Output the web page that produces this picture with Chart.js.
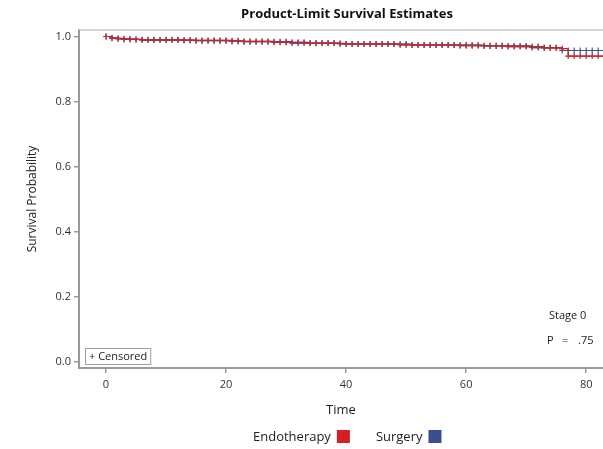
<!DOCTYPE html>
<html lang="en">
<head>
<meta charset="UTF-8">
<title>Product-Limit Survival Estimates</title>
<script src="https://cdn.jsdelivr.net/npm/chart.js"></script>
<style>
  body, html { margin: 0; padding: 0; background: #fff; }
  #wrap { width: 603px; height: 449px; position: relative; }
</style>
</head>
<body>
<div id="wrap"><canvas id="km"></canvas></div>
<script>
// months of follow-up (one censor mark per month)
const times = [0,1,2,3,4,5,6,7,8,9,10,11,12,13,14,15,16,17,18,19,20,21,22,23,24,25,26,27,28,29,30,31,32,33,34,35,36,37,38,39,40,41,42,43,44,45,46,47,48,49,50,51,52,53,54,55,56,57,58,59,60,61,62,63,64,65,66,67,68,69,70,71,72,73,74,75,76,77,78,79,80,81,82,83];

const endoSurv = [1.000,0.996,0.994,0.993,0.992,0.991,0.990,0.990,0.990,0.990,0.990,0.990,0.990,0.988,0.988,0.988,0.988,0.988,0.988,0.988,0.988,0.985,0.985,0.985,0.985,0.985,0.985,0.985,0.982,0.982,0.982,0.982,0.982,0.982,0.979,0.979,0.979,0.979,0.979,0.979,0.977,0.977,0.977,0.977,0.977,0.977,0.977,0.977,0.977,0.974,0.974,0.974,0.974,0.974,0.974,0.974,0.974,0.974,0.974,0.972,0.972,0.972,0.972,0.972,0.972,0.972,0.972,0.969,0.969,0.969,0.969,0.969,0.969,0.965,0.965,0.965,0.963,0.940,0.940,0.940,0.940,0.940,0.940,0.940];

const surgSurv = [1.000,0.995,0.993,0.991,0.991,0.991,0.989,0.989,0.989,0.989,0.989,0.989,0.989,0.989,0.989,0.987,0.987,0.987,0.987,0.987,0.987,0.987,0.987,0.984,0.984,0.984,0.984,0.984,0.984,0.984,0.984,0.980,0.980,0.980,0.980,0.980,0.980,0.980,0.980,0.977,0.977,0.977,0.977,0.977,0.977,0.977,0.977,0.977,0.977,0.977,0.977,0.974,0.974,0.974,0.974,0.974,0.974,0.974,0.974,0.974,0.974,0.974,0.974,0.971,0.971,0.971,0.971,0.971,0.971,0.971,0.971,0.966,0.966,0.966,0.966,0.966,0.957,0.957,0.957,0.957,0.957,0.957,0.957,0.957];

const groupNames = ["Endotherapy", "Surgery"];
const lineColors = ["#c0282c", "#3d5597"];
const boxColors = ["#d41f26", "#3b4f8c"];
const xTicks = [0, 20, 40, 60, 80];
const yTicks = [0.0, 0.2, 0.4, 0.6, 0.8, 1.0];

const FONT = "'Open Sans', sans-serif";
const axisGrey = '#9a9a9a';

const toPts = (vals) => times.map((t, i) => ({ x: t, y: vals[i] }));

// title, legend, annotations drawn on top
const extrasPlugin = {
  id: 'extras',
  afterDraw(chart) {
    const { ctx, chartArea } = chart;
    ctx.save();
    // top frame line
    ctx.strokeStyle = '#c8c8c8';
    ctx.lineWidth = 1.5;
    ctx.beginPath();
    ctx.moveTo(chartArea.left, chartArea.top);
    ctx.lineTo(chartArea.right, chartArea.top);
    ctx.stroke();

    const cx = (chartArea.left + chartArea.right) / 2;
    ctx.fillStyle = '#111';
    ctx.font = 'bold 13px ' + FONT;
    ctx.textAlign = 'center';
    ctx.textBaseline = 'middle';
    ctx.fillText('Product-Limit Survival Estimates', cx + 6, 14);

    // stage / p-value
    ctx.font = '11px ' + FONT;
    ctx.fillStyle = '#222';
    ctx.textAlign = 'left';
    ctx.fillText('Stage 0', 549, 316);
    ctx.fillText('P', 547, 341);
    ctx.fillText('=', 562, 341);
    ctx.fillText('.75', 578, 341);

    // censored box
    ctx.font = '11px ' + FONT;
    const lbl = '+ Censored';
    const w = ctx.measureText(lbl).width;
    ctx.strokeStyle = '#a0a0a0';
    ctx.lineWidth = 1;
    ctx.strokeRect(85.5, 348.5, w + 7, 16);
    ctx.fillStyle = '#222';
    ctx.fillText(lbl, 89, 357);

    // legend (swatch after text)
    ctx.font = '13px ' + FONT;
    let x = 253;
    const y = 437;
    chart.data.datasets.forEach((ds, i) => {
      ctx.fillStyle = '#222';
      ctx.fillText(ds.label, x, y);
      x += ctx.measureText(ds.label).width + 6;
      ctx.fillStyle = boxColors[i];
      ctx.fillRect(x, y - 7, 13, 13);
      x += 13 + 26;
    });
    ctx.restore();
  }
};

new Chart(document.getElementById('km'), {
  type: 'line',
  data: {
    datasets: [
      {
        label: groupNames[0],
        data: toPts(endoSurv),
        borderColor: lineColors[0],
        backgroundColor: lineColors[0],
        borderWidth: 1.2,
        stepped: true,
        pointStyle: 'cross',
        pointRadius: 3,
        pointBorderWidth: 1.2,
        pointBorderColor: lineColors[0]
      },
      {
        label: groupNames[1],
        data: toPts(surgSurv),
        borderColor: lineColors[1],
        backgroundColor: lineColors[1],
        borderWidth: 1.2,
        stepped: true,
        pointStyle: 'cross',
        pointRadius: 3,
        pointBorderWidth: 1.2,
        pointBorderColor: lineColors[1]
      }
    ]
  },
  options: {
    responsive: true,
    maintainAspectRatio: false,
    animation: false,
    layout: { autoPadding: false, padding: { top: 30, right: 0, bottom: 27, left: 0 } },
    plugins: {
      legend: { display: false },
      title: { display: false },
      tooltip: { enabled: false }
    },
    scales: {
      x: {
        type: 'linear',
        min: -4.5,
        max: 82.8,
        afterBuildTicks: (s) => { s.ticks = xTicks.map(v => ({ value: v })); },
        afterFit: (s) => { s.height = 54; s.paddingLeft = 0; s.paddingRight = 0; },
        grid: { display: true, drawOnChartArea: false, drawTicks: true, tickLength: 5, color: axisGrey, lineWidth: 1.5 },
        border: { display: true, color: axisGrey, width: 2 },
        ticks: { color: '#333', font: { family: FONT, size: 11 }, padding: 5 },
        title: { display: true, text: 'Time', color: '#222', font: { family: FONT, size: 13 }, padding: { top: 0, bottom: 4 } }
      },
      y: {
        type: 'linear',
        min: -0.018,
        max: 1.02,
        afterBuildTicks: (s) => { s.ticks = yTicks.map(v => ({ value: v })); },
        afterFit: (s) => { s.width = 79; s.paddingTop = 0; s.paddingBottom = 0; },
        grid: { display: true, drawOnChartArea: false, drawTicks: true, tickLength: 5, color: axisGrey, lineWidth: 1.5 },
        border: { display: true, color: axisGrey, width: 2 },
        ticks: { color: '#333', font: { family: FONT, size: 11 }, padding: 3, callback: (v) => v.toFixed(1) },
        title: { display: true, text: 'Survival Probability', color: '#222', font: { family: FONT, size: 12 }, padding: { top: 25, bottom: 0 } }
      }
    }
  },
  plugins: [extrasPlugin]
});
</script>
</body>
</html>
